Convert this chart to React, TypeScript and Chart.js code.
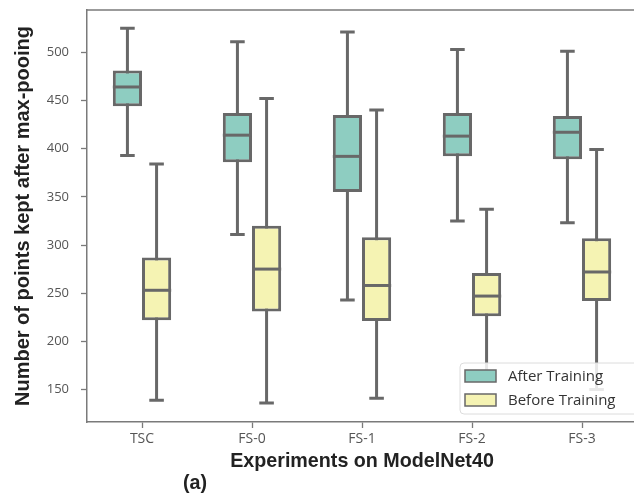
import React, { useEffect, useRef } from 'react';
import { Chart, registerables } from 'chart.js';

Chart.register(...registerables);

const categories = ['TSC', 'FS-0', 'FS-1', 'FS-2', 'FS-3'];
const seriesLabels = ['After Training', 'Before Training'];

const afterMin = [393, 311, 243, 325, 323];
const afterQ1 = [444, 386, 355, 392, 389];
const afterMedian = [464, 414, 392, 413, 417];
const afterQ3 = [481, 437, 435, 437, 434];
const afterMax = [525, 511, 521, 503, 501];

const beforeMin = [139, 136, 141, 165, 150];
const beforeQ1 = [222, 231, 221, 226, 242];
const beforeMedian = [253, 275, 258, 247, 272];
const beforeQ3 = [287, 320, 308, 271, 307];
const beforeMax = [384, 452, 440, 337, 399];

const yTicks = [150, 200, 250, 300, 350, 400, 450, 500];
const yMin = 116.3;
const yMax = 543.9;

const xTitle = 'Experiments on ModelNet40';
const yTitle = 'Number of points kept after max-pooing';
const panelLabel = '(a)';

const EDGE = '#686868';
const SPINE = '#7a7a7a';
const COLORS = ['#8ecdc1', '#f5f3b3'];

export default function App() {
  const ref = useRef<HTMLCanvasElement>(null);

  useEffect(() => {
    if (!ref.current) return;
    const stats = [
      { min: afterMin, q1: afterQ1, med: afterMedian, q3: afterQ3, max: afterMax },
      { min: beforeMin, q1: beforeQ1, med: beforeMedian, q3: beforeQ3, max: beforeMax },
    ];

    const boxPlugin = {
      id: 'boxParts',
      beforeDatasetsDraw(chart: any) {
        const ctx = chart.ctx;
        const ys = chart.scales.y;
        ctx.save();
        ctx.strokeStyle = EDGE;
        ctx.lineWidth = 3;
        stats.forEach((s, di) => {
          const meta = chart.getDatasetMeta(di);
          meta.data.forEach((bar: any, i: number) => {
            const x = bar.x;
            const w = bar.width;
            const pMin = ys.getPixelForValue(s.min[i]);
            const pMax = ys.getPixelForValue(s.max[i]);
            ctx.beginPath();
            ctx.moveTo(x, pMin);
            ctx.lineTo(x, pMax);
            ctx.moveTo(x - w / 4, pMin);
            ctx.lineTo(x + w / 4, pMin);
            ctx.moveTo(x - w / 4, pMax);
            ctx.lineTo(x + w / 4, pMax);
            ctx.stroke();
          });
        });
        ctx.restore();
      },
      afterDatasetsDraw(chart: any) {
        const ctx = chart.ctx;
        const ys = chart.scales.y;
        const area = chart.chartArea;
        ctx.save();
        ctx.strokeStyle = EDGE;
        ctx.lineWidth = 3;
        stats.forEach((s, di) => {
          const meta = chart.getDatasetMeta(di);
          meta.data.forEach((bar: any, i: number) => {
            const x = bar.x;
            const w = bar.width;
            const pMed = ys.getPixelForValue(s.med[i]);
            ctx.beginPath();
            ctx.moveTo(x - w / 2, pMed);
            ctx.lineTo(x + w / 2, pMed);
            ctx.stroke();
          });
        });
        // top spine
        ctx.strokeStyle = SPINE;
        ctx.lineWidth = 1.5;
        ctx.beginPath();
        ctx.moveTo(area.left, area.top);
        ctx.lineTo(area.right, area.top);
        ctx.stroke();

        // legend
        const lx = 460, ly = 363, lw = 190, lh = 51;
        ctx.fillStyle = 'rgba(255,255,255,0.85)';
        ctx.strokeStyle = '#dcdcdc';
        ctx.lineWidth = 1;
        ctx.beginPath();
        const r = 4;
        ctx.moveTo(lx + r, ly);
        ctx.lineTo(lx + lw - r, ly);
        ctx.arcTo(lx + lw, ly, lx + lw, ly + r, r);
        ctx.lineTo(lx + lw, ly + lh - r);
        ctx.arcTo(lx + lw, ly + lh, lx + lw - r, ly + lh, r);
        ctx.lineTo(lx + r, ly + lh);
        ctx.arcTo(lx, ly + lh, lx, ly + lh - r, r);
        ctx.lineTo(lx, ly + r);
        ctx.arcTo(lx, ly, lx + r, ly, r);
        ctx.closePath();
        ctx.fill();
        ctx.stroke();
        ctx.font = "15px 'Open Sans', sans-serif";
        ctx.textBaseline = 'middle';
        ctx.textAlign = 'left';
        chart.data.datasets.forEach((ds: any, i: number) => {
          const sy = 370 + i * 24;
          ctx.fillStyle = ds.backgroundColor;
          ctx.fillRect(465, sy, 31, 12);
          ctx.strokeStyle = EDGE;
          ctx.lineWidth = 1.5;
          ctx.strokeRect(465, sy, 31, 12);
          ctx.fillStyle = '#333';
          ctx.fillText(ds.label, 508, sy + 6.5);
        });
        ctx.restore();
      },
      afterDraw(chart: any) {
        const ctx = chart.ctx;
        ctx.save();
        ctx.font = "bold 19.7px 'Liberation Sans', Arial, sans-serif";
        ctx.fillStyle = '#222';
        ctx.textAlign = 'center';
        ctx.textBaseline = 'middle';
        ctx.fillText(panelLabel, 195, 484);
        ctx.restore();
      },
    };

    const chart = new Chart(ref.current, {
      type: 'bar',
      data: {
        labels: categories,
        datasets: [
          {
            label: seriesLabels[0],
            data: afterQ1.map((v, i) => [v, afterQ3[i]]) as any,
            backgroundColor: COLORS[0],
            borderColor: EDGE,
            borderWidth: 3,
            borderSkipped: false,
          },
          {
            label: seriesLabels[1],
            data: beforeQ1.map((v, i) => [v, beforeQ3[i]]) as any,
            backgroundColor: COLORS[1],
            borderColor: EDGE,
            borderWidth: 3,
            borderSkipped: false,
          },
        ],
      },
      options: {
        responsive: false,
        animation: false,
        devicePixelRatio: 1,
        categoryPercentage: 0.53,
        barPercentage: 1.0,
        layout: { padding: { top: 10, right: 63, left: 0, bottom: 0 } },
        plugins: {
          legend: { display: false },
          tooltip: { enabled: false },
        },
        scales: {
          x: {
            grid: {
              display: true,
              offset: false,
              drawOnChartArea: false,
              drawTicks: true,
              tickLength: 6,
              tickWidth: 1.3,
              tickColor: SPINE,
            },
            border: { display: true, color: SPINE, width: 1.5 },
            ticks: {
              color: '#555',
              font: { family: "'Open Sans', sans-serif", size: 14 },
              padding: 3,
            },
            title: {
              display: true,
              text: xTitle,
              color: '#222',
              font: { family: "'Liberation Sans', Arial, sans-serif", size: 19.7, weight: 'bold' },
              padding: { top: 2, bottom: 22.2 },
            },
            afterFit: (s: any) => {
              s.height = 74;
              s.paddingLeft = 0;
              s.paddingRight = 0;
            },
          },
          y: {
            min: yMin,
            max: yMax,
            afterBuildTicks: (s: any) => {
              s.ticks = yTicks.map((v) => ({ value: v }));
            },
            grid: {
              display: true,
              drawOnChartArea: false,
              drawTicks: true,
              tickLength: 6,
              tickWidth: 1.3,
              tickColor: SPINE,
            },
            border: { display: true, color: SPINE, width: 1.5 },
            ticks: {
              color: '#555',
              font: { family: "'Open Sans', sans-serif", size: 13 },
              padding: 12,
            },
            title: {
              display: true,
              text: yTitle,
              color: '#222',
              font: { family: "'Liberation Sans', Arial, sans-serif", size: 20, weight: 'bold' },
              padding: { top: 11, bottom: 0 },
            },
            afterFit: (s: any) => {
              s.width = 87;
              s.paddingTop = 0;
              s.paddingBottom = 0;
            },
          },
        },
      } as any,
      plugins: [boxPlugin],
    });
    return () => chart.destroy();
  }, []);

  return (
    <div
      style={{
        position: 'fixed',
        left: 0,
        top: 0,
        width: 634,
        height: 496,
        overflow: 'hidden',
        background: '#fff',
      }}
    >
      <canvas ref={ref} width={700} height={496} style={{ display: 'block' }} />
    </div>
  );
}
